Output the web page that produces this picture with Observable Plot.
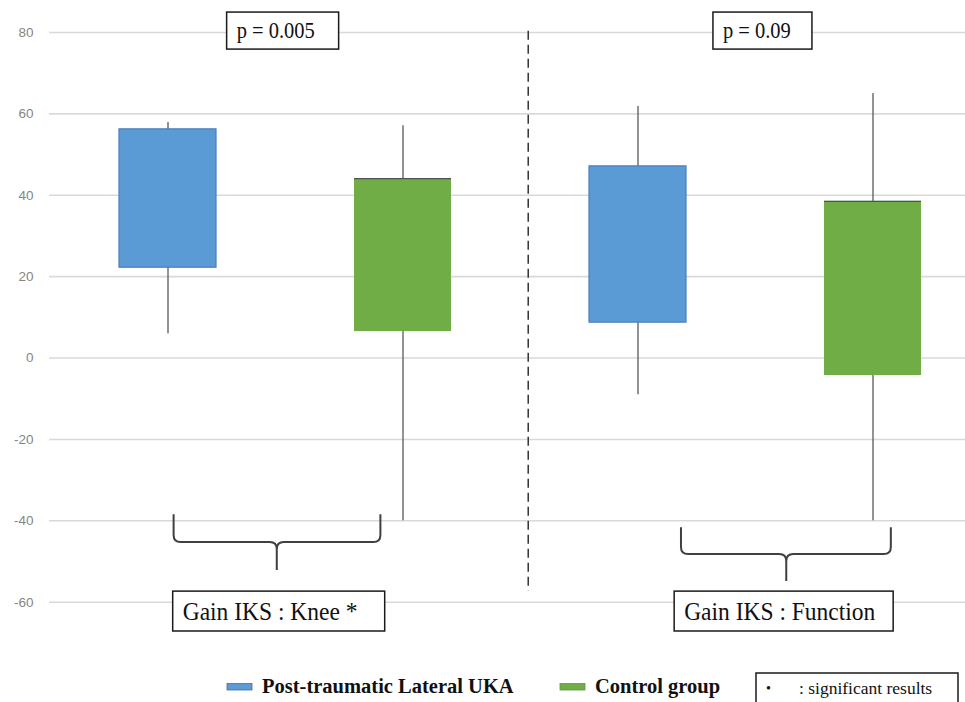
<!DOCTYPE html>
<html>
<head>
<meta charset="utf-8">
<script src="https://cdn.jsdelivr.net/npm/d3@7"></script>
<script src="https://cdn.jsdelivr.net/npm/@observablehq/plot@0.6"></script>
<style>
  html, body { margin: 0; padding: 0; background: #fff; overflow: hidden; width: 965px; height: 702px; }
  #chart svg { display: block; }
</style>
</head>
<body>
<div id="chart"></div>
<script>
// ---- data ----
const measures = ["Gain IKS : Knee *", "Gain IKS : Function"];
const groups = ["Post-traumatic Lateral UKA", "Control group"];
const groupColors = ["#5B9BD5", "#70AD47"];
const pValues = ["p = 0.005", "p = 0.09"];
const yTicks = [-60, -40, -20, 0, 20, 40, 60, 80];
// box order: Knee/UKA, Knee/Control, Function/UKA, Function/Control
const whiskerLow  = [6.0, -40, -9.0, -40];
const boxLow      = [22.2, 6.5, 8.7, -4.3];
const boxHigh     = [56.2, 44.1, 47.1, 38.5];
const whiskerHigh = [57.9, 57.1, 61.8, 65.0];
const legendNote = ": significant results";

const data = whiskerLow.map((_, i) => ({
  key: measures[Math.floor(i / 2)] + " / " + groups[i % 2],
  measure: measures[Math.floor(i / 2)],
  group: groups[i % 2],
  lo: whiskerLow[i], q1: boxLow[i], q3: boxHigh[i], hi: whiskerHigh[i]
}));

const W = 965, H = 660;
const step = 235.3, firstCenter = 166.8;

const plot = Plot.plot({
  width: W, height: H,
  marginLeft: 49, marginRight: 0, marginTop: 0, marginBottom: 0,
  style: {fontFamily: "'Liberation Sans', Arial, sans-serif", fontSize: "13.5px", color: "#858585", background: "#fff"},
  x: {domain: data.map(d => d.key), range: [firstCenter - step / 2, firstCenter + 3.5 * step], padding: 0, axis: null},
  y: {domain: [-60, 80], range: [601.7, 32], ticks: yTicks, tickSize: 0, tickPadding: 16, tickFormat: d => String(d), label: null},
  color: {domain: groups, range: groupColors},
  marks: [
    Plot.ruleY(yTicks, {stroke: "#d9d9d9", strokeWidth: 1.6}),
    Plot.ruleX(data, {x: "key", y1: "lo", y2: "hi", stroke: "#595959", strokeWidth: 1.3}),
    Plot.barY(data, {filter: d => d.group === groups[0], x: "key", y1: "q1", y2: "q3", fill: "group", stroke: "#4a7ebb", strokeWidth: 1.2, insetLeft: 69, insetRight: 69}),
    Plot.barY(data, {filter: d => d.group === groups[1], x: "key", y1: "q1", y2: "q3", fill: "group", insetLeft: 69, insetRight: 69}),
    Plot.tickY(data, {filter: d => d.group === groups[1], x: "key", y: "q3", stroke: "#505050", strokeWidth: 1.2, insetLeft: 69, insetRight: 69})
  ]
});

document.getElementById("chart").appendChild(plot);

// ---- annotations positioned through the plot's scales ----
const sx = plot.scale("x"), sy = plot.scale("y");
const bandStart = k => sx.apply ? sx.apply(k) : (sx.range[0] + sx.domain.indexOf(k) * step);
const bw = sx.bandwidth ?? step;
const cx = i => bandStart(data[i].key) + bw / 2;
const xAt = t => cx(0) + t * (cx(1) - cx(0));
const yAt = v => sy.apply ? sy.apply(v) : (601.7 - (v + 60) * (569.7 / 140));

const svg = d3.select(plot);
const ann = svg.append("g").attr("class", "annotations").attr("text-anchor", "start");

// dashed separator
ann.append("line")
  .attr("x1", xAt(1.535)).attr("x2", xAt(1.535))
  .attr("y1", yAt(80.3)).attr("y2", yAt(-57.4))
  .attr("stroke", "#333").attr("stroke-width", 1.5).attr("stroke-dasharray", "9,5");

function braceAt(t1, t2, tc, vTip, vBar, vPoint) {
  const x1 = xAt(t1), x2 = xAt(t2), c = xAt(tc);
  const yT = yAt(vTip), yB = yAt(vBar), yP = yAt(vPoint);
  const r = 7;
  const d = `M${x1},${yT} L${x1},${yB - r} Q${x1},${yB} ${x1 + r},${yB} L${c - r},${yB} Q${c},${yB} ${c},${yB + r} L${c},${yP}` +
            ` M${c},${yB + r} Q${c},${yB} ${c + r},${yB} L${x2 - r},${yB} Q${x2},${yB} ${x2},${yB - r} L${x2},${yT}`;
  ann.append("path").attr("d", d).attr("fill", "none").attr("stroke", "#404040").attr("stroke-width", 2);
}
braceAt(0.026, 0.906, 0.465, -38.5, -45.3, -52.2);
braceAt(2.185, 3.078, 2.633, -41.7, -48.3, -54.9);

function textBox(tLeft, widthPx, vTop, vBottom, vBase, label, size, sy_) {
  const x = xAt(tLeft), y1 = yAt(vTop), y2 = yAt(vBottom);
  ann.append("rect").attr("x", x).attr("y", y1).attr("width", widthPx).attr("height", y2 - y1)
    .attr("fill", "#fff").attr("stroke", "#1a1a1a").attr("stroke-width", 1.5);
  ann.append("text")
    .attr("transform", `translate(${x + 10},${yAt(vBase)}) scale(1,${sy_})`)
    .attr("text-anchor", "start")
    .attr("font-family", "'Liberation Serif', 'Times New Roman', serif")
    .attr("font-size", size).attr("fill", "#111").text(label);
}
textBox(0.2516, 112, 84.9, 75.8, 78.5, pValues[0], 20.5, 1.12);
textBox(2.321, 99, 84.9, 75.8, 78.5, pValues[1], 20.5, 1.12);
textBox(0.0221, 212, -57.4, -67.2, -64.5, measures[0], 23.5, 1.08);
textBox(2.156, 219, -57.4, -67.2, -64.5, measures[1], 23.5, 1.08);

// ---- legend below the plot ----
const leg = d3.select("#chart").append("svg").attr("width", W).attr("height", 42)
  .style("display", "block")
  .attr("text-anchor", "start")
  .attr("font-family", "'Liberation Serif', 'Times New Roman', serif");
const legItems = [
  {x: 227, label: groups[0], color: groupColors[0], border: "#41719C"},
  {x: 560, label: groups[1], color: groupColors[1], border: "#5e9a3a"}
];
legItems.forEach(it => {
  leg.append("rect").attr("x", it.x).attr("y", 23.5).attr("width", 25).attr("height", 6.5)
    .attr("fill", it.color).attr("stroke", it.border).attr("stroke-width", 0.8);
  leg.append("text").attr("x", it.x + 35).attr("y", 33).attr("font-size", 20.5)
    .attr("font-weight", "bold").attr("fill", "#111").text(it.label);
});
leg.append("rect").attr("x", 756).attr("y", 13).attr("width", 202).attr("height", 40)
  .attr("fill", "#fff").attr("stroke", "#1a1a1a").attr("stroke-width", 1.5);
leg.append("text").attr("x", 766).attr("y", 33).attr("font-size", 14).attr("fill", "#111").text("\u2022");
leg.append("text").attr("x", 799).attr("y", 34).attr("font-size", 17.5).attr("fill", "#111").text(legendNote);
</script>
</body>
</html>
